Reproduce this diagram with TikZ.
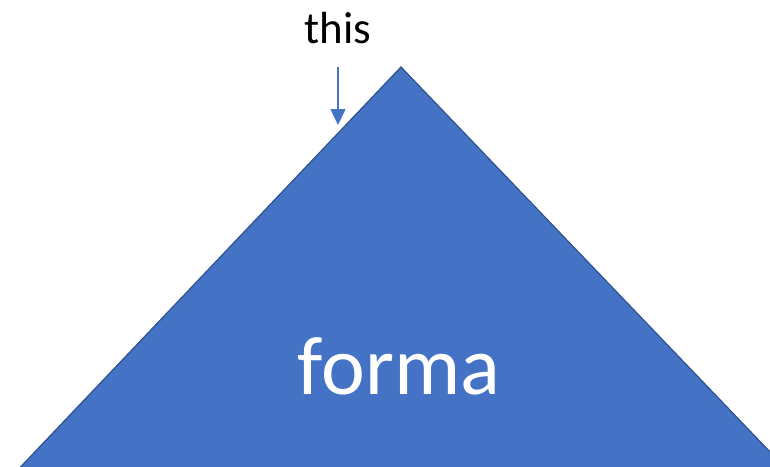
\documentclass[tikz,border=0pt]{standalone}
\usepackage{fontspec}
\setmainfont{Carlito}
\usetikzlibrary{arrows.meta}
\definecolor{offblue}{HTML}{4472C4}
\definecolor{offdark}{HTML}{2F528F}
\tikzset{
  tri/.style={fill=offblue, draw=offdark, line width=1.2pt},
  pointer/.style={draw=offblue, line width=1.5pt, -{Triangle[length=16pt,width=15pt]}},
}
\begin{document}
\begin{tikzpicture}[x=1pt,y=-1pt]
\useasboundingbox (0,0) rectangle (770,466);
\clip (0,0) rectangle (770,466);
\coordinate (apex) at (401,67);
\coordinate (bl) at (-106,600);
\coordinate (br) at (912,600);
\draw[tri] (apex) -- (br) -- (bl) -- cycle;
\node[anchor=base, font=\fontsize{45}{50}\selectfont, inner sep=0pt] (lbl) at (338,43) {this};
\coordinate (tip) at (338,125);
\coordinate (tail) at (338,67);
\draw[pointer] (tail) -- (tip);
\node[anchor=base, text=white, font=\fontsize{83}{95}\selectfont, inner sep=0pt] (forma) at (399,394) {forma};
\end{tikzpicture}
\end{document}
